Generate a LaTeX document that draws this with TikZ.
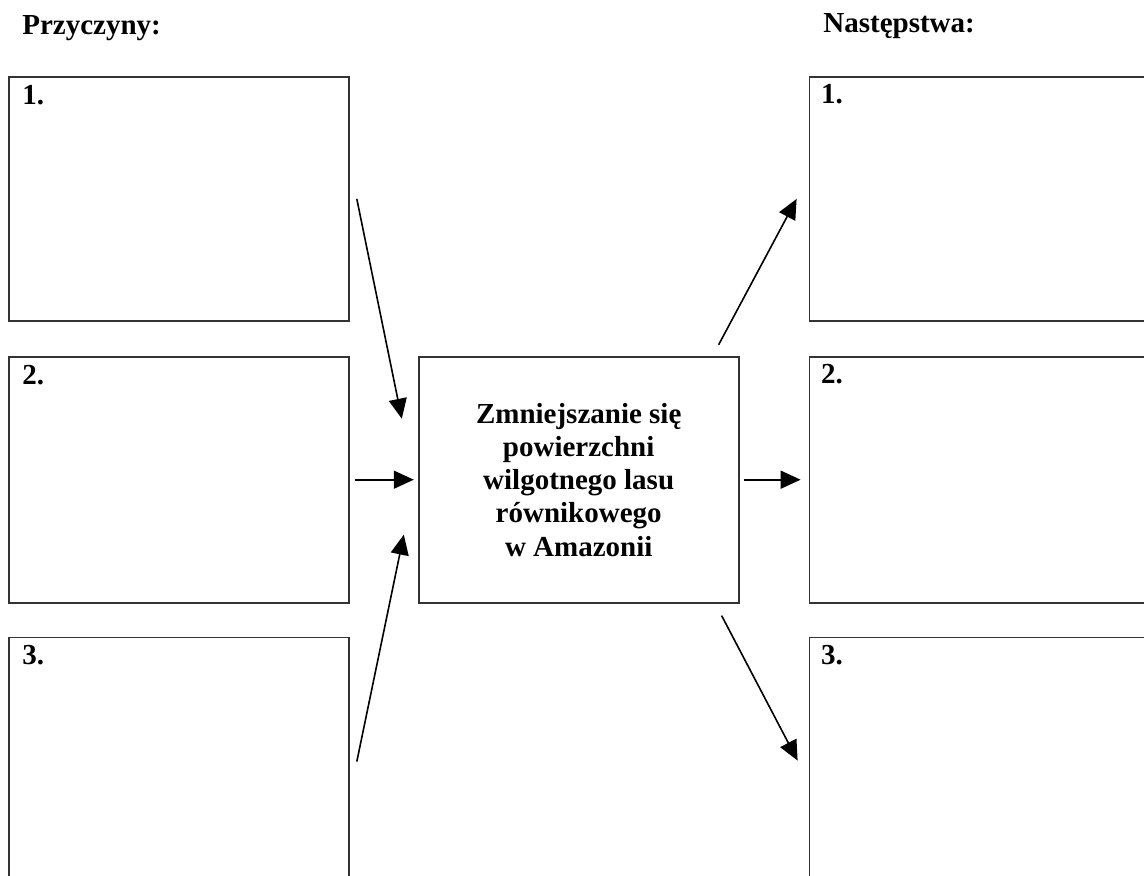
\documentclass[tikz,border=0pt]{standalone}
\usepackage{fontspec}
\setmainfont{Liberation Serif}
\usetikzlibrary{positioning,arrows.meta}
\tikzset{
  box/.style  ={draw=black!80, line width=0.9pt, minimum width=170pt,
                minimum height=123pt, inner sep=0pt},
  mid/.style  ={box, minimum width=160pt, align=center,
                font=\bfseries\fontsize{14.5}{16.6}\selectfont},
  num/.style  ={inner sep=0pt, font=\bfseries\fontsize{14.5}{16}\selectfont},
  head/.style ={inner sep=0pt, anchor=base west, font=\bfseries\fontsize{14.5}{16}\selectfont},
  fl/.style   ={-{Triangle[length=10pt,width=9pt]}, line width=0.8pt}
}

\begin{document}
\begin{tikzpicture}[x=0.5pt,y=-0.5pt]
  \useasboundingbox (0,0) rectangle (1144,876);
  \clip (0,0) rectangle (1144,876);

  \node[head] (causes)  at (22,35)  {Przyczyny:};
  \node[head] (effects) at (823,33) {Następstwa:};

  % causes (left)
  \node[box, anchor=north west, minimum height=122pt] (cause1) at (8,76) {};
  \node[box, below=17pt of cause1] (cause2) {};
  \node[box, below=16.5pt of cause2, minimum height=140pt] (cause3) {};

  \node[mid, right=34pt of cause2] (forest) {Zmniejszanie się\\powierzchni\\wilgotnego lasu\\równikowego\\w Amazonii};

  % effects (right)
  \node[box, right=34.5pt of forest, minimum width=180pt] (effect2) {};
  \node[box, above=17pt of effect2, minimum width=180pt, minimum height=122pt] (effect1) {};
  \node[box, below=16.5pt of effect2, minimum width=180pt, minimum height=140pt] (effect3) {};

  \node[num, below right=4.5pt and 7pt of cause1.north west] (c1) {1.};
  \node[num, below right=4.5pt and 7pt of cause2.north west] (c2) {2.};
  \node[num, below right=4pt and 7pt of cause3.north west]   (c3) {3.};
  \node[num, below right=4pt and 6pt of effect1.north west]  (e1) {1.};
  \node[num, below right=4pt and 6pt of effect2.north west]  (e2) {2.};
  \node[num, below right=4pt and 6pt of effect3.north west]  (e3) {3.};

  \draw[fl] ([xshift=3.5pt]cause1.east) -- ([shift={(-8pt,30.5pt)}]forest.west);
  \draw[fl] ([xshift=2.5pt]cause2.east) -- ([xshift=-2pt]forest.west);
  \draw[fl] ([shift={(3.5pt,-62.5pt)}]cause3.north east) -- ([shift={(-7pt,-27.5pt)}]forest.west);

  \draw[fl] ([shift={(-10.5pt,5.5pt)}]forest.north east) -- ([xshift=-6pt]effect1.west);
  \draw[fl] ([xshift=2pt]forest.east) -- ([xshift=-4pt]effect2.west);
  \draw[fl] ([shift={(-9pt,-6pt)}]forest.south east) -- ([shift={(-5.5pt,-62pt)}]effect3.north west);
\end{tikzpicture}
\end{document}
